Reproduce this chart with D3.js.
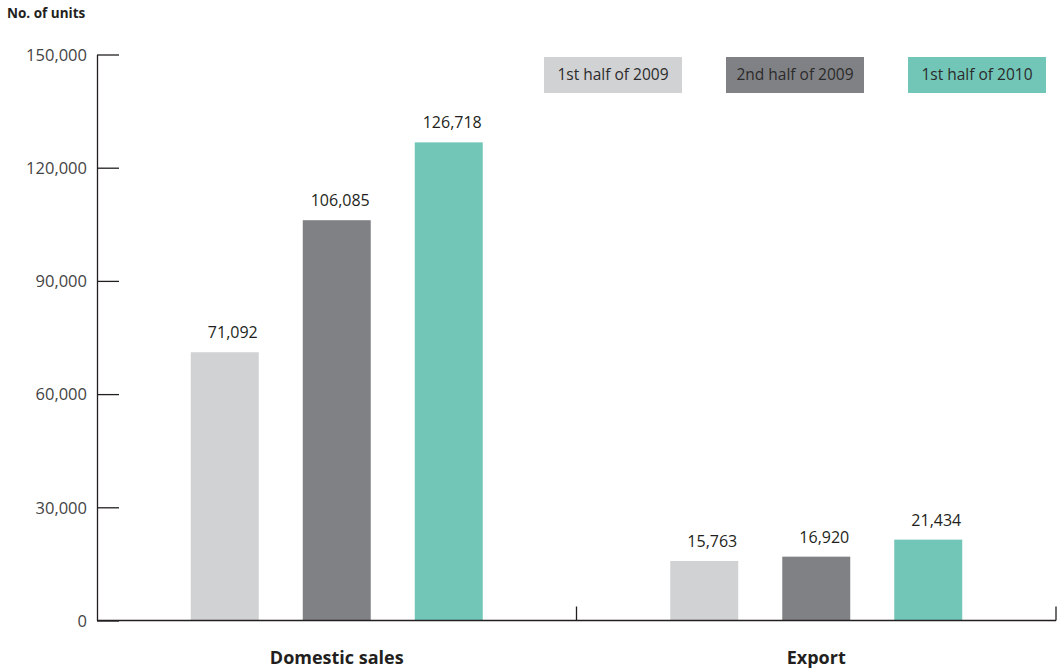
<!DOCTYPE html>
<html>
<head>
<meta charset="utf-8">
<script src="https://cdn.jsdelivr.net/npm/d3@7"></script>
<style>
  body { margin: 0; background: #fff; }
  svg text { font-family: "Open Sans", "Noto Sans", sans-serif; }
</style>
</head>
<body>
<svg id="chart" width="1059" height="670"></svg>
<script>
var categories = ["Domestic sales", "Export"];
var series = ["1st half of 2009", "2nd half of 2009", "1st half of 2010"];
var domestic = [71092, 106085, 126718];
var exportVals = [15763, 16920, 21434];
var yTicks = [0, 30000, 60000, 90000, 120000, 150000];
var colors = ["#d1d2d4", "#808184", "#72c6b8"];

var svg = d3.select("#chart");

var x0 = d3.scaleBand()
  .domain(categories)
  .range([97, 1056]);

var x1 = d3.scaleBand()
  .domain(series)
  .range([x0.bandwidth() / 2 - 146, x0.bandwidth() / 2 + 146])
  .paddingInner(0.393);

var y = d3.scaleLinear()
  .domain([0, 150000])
  .range([620.5, 54.5]);

var color = d3.scaleOrdinal().domain(series).range(colors);

var fmt = d3.format(",");

// y axis, ticks pointing into the plot
var yAxis = svg.append("g")
  .attr("transform", "translate(97,0)")
  .call(d3.axisLeft(y).tickValues(yTicks).tickSize(-22).tickSizeOuter(0).tickPadding(10).tickFormat(fmt));
yAxis.selectAll("path, line").attr("stroke", "#231f20").attr("stroke-width", 1.3);
yAxis.selectAll("text")
  .attr("font-size", 16.5)
  .attr("fill", "#444")
  .attr("dy", "0.35em");

// bars
var rows = [domestic, exportVals];
var groups = svg.selectAll(".group")
  .data(categories)
  .enter()
  .append("g")
  .attr("class", "group")
  .attr("transform", function(d) { return "translate(" + x0(d) + ",0)"; });

groups.selectAll("rect")
  .data(function(d, i) { return series.map(function(s, j) { return {s: s, v: rows[i][j]}; }); })
  .enter()
  .append("rect")
  .attr("x", function(d) { return x1(d.s); })
  .attr("width", x1.bandwidth())
  .attr("y", function(d) { return y(d.v); })
  .attr("height", function(d) { return y(0) - y(d.v); })
  .attr("fill", function(d) { return color(d.s); });

groups.selectAll(".val")
  .data(function(d, i) { return series.map(function(s, j) { return {s: s, v: rows[i][j]}; }); })
  .enter()
  .append("text")
  .attr("class", "val")
  .attr("x", function(d) { return x1(d.s) + x1.bandwidth() - 1; })
  .attr("y", function(d) { return y(d.v) - 14; })
  .attr("text-anchor", "end")
  .attr("font-size", 16)
  .attr("fill", "#231f20")
  .text(function(d) { return fmt(d.v); });

// x axis baseline with boundary ticks
svg.append("line")
  .attr("x1", x0.range()[0]).attr("x2", x0.range()[1])
  .attr("y1", y(0)).attr("y2", y(0))
  .attr("stroke", "#231f20").attr("stroke-width", 1.3);

svg.selectAll(".xtick")
  .data(categories)
  .enter()
  .append("line")
  .attr("class", "xtick")
  .attr("x1", function(d) { return x0(d) + x0.bandwidth(); })
  .attr("x2", function(d) { return x0(d) + x0.bandwidth(); })
  .attr("y1", y(0)).attr("y2", y(0) - 14)
  .attr("stroke", "#231f20").attr("stroke-width", 1.3);

svg.selectAll(".xlabel")
  .data(categories)
  .enter()
  .append("text")
  .attr("class", "xlabel")
  .attr("x", function(d) { return x0(d) + x0.bandwidth() / 2; })
  .attr("y", 664)
  .attr("text-anchor", "middle")
  .attr("font-size", 18)
  .attr("font-weight", "bold")
  .attr("fill", "#231f20")
  .text(function(d) { return d; });

// y title
svg.append("text")
  .attr("x", 7)
  .attr("y", 18)
  .attr("font-size", 13.5)
  .attr("font-weight", "bold")
  .attr("fill", "#231f20")
  .text("No. of units");

// legend
var legend = svg.selectAll(".legend")
  .data(series)
  .enter()
  .append("g")
  .attr("class", "legend")
  .attr("transform", function(d, i) { return "translate(" + (544 + i * 182) + ",57)"; });

legend.append("rect")
  .attr("width", 138)
  .attr("height", 36)
  .attr("fill", function(d) { return color(d); });

legend.append("text")
  .attr("x", 69)
  .attr("y", 18)
  .attr("dy", "0.35em")
  .attr("text-anchor", "middle")
  .attr("font-size", 15.5)
  .attr("fill", "#2b2b2b")
  .text(function(d) { return d; });
</script>
</body>
</html>
